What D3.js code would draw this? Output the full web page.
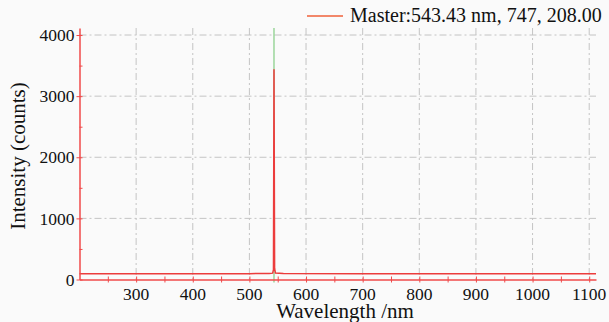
<!DOCTYPE html>
<html>
<head>
<meta charset="utf-8">
<script src="https://cdn.jsdelivr.net/npm/d3@7"></script>
<style>
  body { margin: 0; background: #fafafa; }
  svg { display: block; }
</style>
</head>
<body>
<div id="chart"></div>
<script>
// Spectrum data (wavelength nm, counts)
const wavelengths = [200, 300, 400, 500, 535, 541, 542.5, 543.43, 544.5, 546, 560, 700, 900, 1112];
const counts      = [95,  96,  95,  96,  97,  104, 160,   3440,   180,   105, 97,  96,  96,  95];
const cursorNm = 543.43;
const xTicks = [300, 400, 500, 600, 700, 800, 900, 1000, 1100];
const yTicks = [0, 1000, 2000, 3000, 4000];
const legendLabel = "Master:543.43 nm, 747, 208.00";

const W = 609, H = 322;
const margin = { top: 28, right: 13, bottom: 42.5, left: 79.5 };
const serif = "Liberation Serif";

const svg = d3.select("#chart").append("svg")
    .attr("width", W).attr("height", H);

const x = d3.scaleLinear().domain([200, 1112]).range([margin.left, W - margin.right]);
const y = d3.scaleLinear().domain([0, 4115]).range([H - margin.bottom, margin.top]);

const gridColor = "#c4c4c4";
const axisColor = "#f04a4a";

// grid lines (dash-dot)
svg.append("g").selectAll("line").data(xTicks).join("line")
    .attr("x1", d => x(d)).attr("x2", d => x(d))
    .attr("y1", y.range()[1]).attr("y2", y(0))
    .attr("stroke", gridColor).attr("stroke-dasharray", "7,3,2,3");
svg.append("g").selectAll("line").data(yTicks.filter(d => d > 0)).join("line")
    .attr("x1", x(200)).attr("x2", x(1112))
    .attr("y1", d => y(d)).attr("y2", d => y(d))
    .attr("stroke", gridColor).attr("stroke-dasharray", "7,3,2,3");

// cursor marker
svg.append("line")
    .attr("x1", x(cursorNm)).attr("x2", x(cursorNm))
    .attr("y1", y.range()[1]).attr("y2", y(0) + 3)
    .attr("stroke", "#6cc36c").attr("stroke-width", 1);

// spectrum line
const pts = wavelengths.map((w, i) => [w, counts[i]]);
svg.append("path").datum(pts)
    .attr("fill", "none").attr("stroke", "#ec3c3c").attr("stroke-width", 1.5)
    .attr("d", d3.line().x(d => x(d[0])).y(d => y(d[1])));

// axes
const xAxis = svg.append("g").attr("transform", `translate(0,${y(0)})`)
    .call(d3.axisBottom(x).tickValues(d3.range(250, 1112, 50)).tickSize(0).tickFormat(""));
xAxis.select(".domain").attr("stroke", axisColor).attr("stroke-width", 1.5);
xAxis.selectAll(".tick").append("line")
    .attr("y1", -3).attr("y2", 3).attr("stroke", axisColor);

xAxis.selectAll(".lbl").data(xTicks).join("text")
    .attr("x", d => x(d)).attr("y", 20)
    .attr("text-anchor", "middle").attr("font-size", 17.5).attr("font-family", serif)
    .attr("fill", "#111")
    .text(d => d);

const yAxis = svg.append("g").attr("transform", `translate(${x(200)},0)`)
    .call(d3.axisLeft(y).tickValues(d3.range(0, 4115, 500)).tickSize(0).tickFormat(""));
yAxis.select(".domain").attr("stroke", axisColor).attr("stroke-width", 1.5);
yAxis.selectAll(".tick").append("line")
    .attr("x1", d => d % 1000 === 0 ? -3 : 0).attr("x2", 3).attr("stroke", axisColor);
yAxis.selectAll(".lbl").data(yTicks).join("text")
    .attr("x", -5).attr("y", d => y(d)).attr("dy", "0.35em")
    .attr("text-anchor", "end").attr("font-size", 17.5).attr("font-family", serif)
    .attr("fill", "#111")
    .text(d => d);

// axis titles
svg.append("text")
    .attr("x", 345).attr("y", 318)
    .attr("text-anchor", "middle").attr("font-size", 21).attr("font-family", serif)
    .attr("fill", "#111")
    .text("Wavelength /nm");
svg.append("text")
    .attr("transform", "translate(25,156) rotate(-90)")
    .attr("text-anchor", "middle").attr("font-size", 21).attr("font-family", serif)
    .attr("fill", "#111")
    .text("Intensity (counts)");

// legend
svg.append("line")
    .attr("x1", 307).attr("x2", 343).attr("y1", 16).attr("y2", 16)
    .attr("stroke", "#f2876a").attr("stroke-width", 2);
svg.append("text")
    .attr("x", 350).attr("y", 22).attr("font-size", 20).attr("font-family", serif)
    .attr("fill", "#111")
    .text(legendLabel);
</script>
</body>
</html>
